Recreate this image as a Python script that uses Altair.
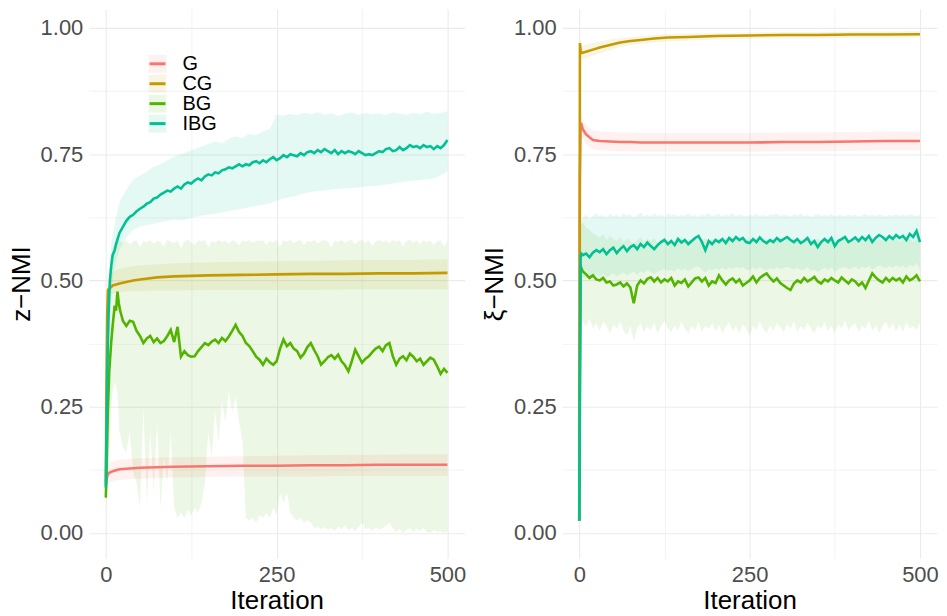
import altair as alt
import pandas as pd

SERIES = ["G", "CG", "BG", "IBG"]
COLORS = ["#F8766D", "#C49A00", "#53B400", "#00C094"]
BANDS = ["G band", "CG band", "BG band", "IBG band"]

# ---------------- left panel: z-NMI ----------------
z_smooth_iter = [0, 1, 2, 3, 4, 6, 8, 10, 15, 20, 30, 40, 50, 75, 100, 150, 200, 250, 300, 350, 400, 450, 500]
g_z_mean = [0.095, 0.105, 0.112, 0.116, 0.118, 0.120, 0.121, 0.122, 0.124, 0.126, 0.127, 0.128, 0.129, 0.130,
            0.131, 0.132, 0.133, 0.133, 0.134, 0.134, 0.135, 0.135, 0.135]
g_z_lo = [0.090, 0.092, 0.095, 0.098, 0.100, 0.101, 0.102, 0.103, 0.104, 0.105, 0.106, 0.107, 0.108, 0.109,
          0.110, 0.111, 0.112, 0.112, 0.112, 0.113, 0.113, 0.113, 0.113]
g_z_hi = [0.100, 0.118, 0.128, 0.133, 0.136, 0.139, 0.140, 0.141, 0.143, 0.145, 0.146, 0.147, 0.148, 0.149,
          0.150, 0.151, 0.152, 0.153, 0.154, 0.155, 0.155, 0.156, 0.156]
cg_z_mean = [0.100, 0.300, 0.430, 0.480, 0.483, 0.485, 0.487, 0.490, 0.492, 0.494, 0.497, 0.500, 0.502, 0.506,
             0.508, 0.510, 0.511, 0.512, 0.513, 0.513, 0.514, 0.514, 0.515]
cg_z_lo = [0.090, 0.250, 0.380, 0.440, 0.455, 0.465, 0.470, 0.474, 0.476, 0.477, 0.478, 0.479, 0.479, 0.480,
           0.480, 0.481, 0.481, 0.481, 0.481, 0.482, 0.482, 0.482, 0.482]
cg_z_hi = [0.110, 0.350, 0.470, 0.505, 0.510, 0.513, 0.515, 0.517, 0.520, 0.523, 0.526, 0.528, 0.530, 0.532,
           0.534, 0.536, 0.537, 0.538, 0.539, 0.540, 0.541, 0.541, 0.542]

ibg_z_iter = [0, 1, 2, 3, 4, 5, 6, 8, 10, 13, 15] + list(range(20, 501, 5))
ibg_z_mean = [0.09, 0.20, 0.30, 0.38, 0.43, 0.47, 0.50, 0.53, 0.55, 0.56, 0.572,
              0.594, 0.606, 0.618, 0.626, 0.630, 0.637, 0.642, 0.646, 0.652, 0.655,
              0.662, 0.664, 0.670, 0.674, 0.678, 0.676, 0.682, 0.686, 0.682, 0.690,
              0.694, 0.692, 0.698, 0.702, 0.698, 0.706, 0.710, 0.708, 0.714, 0.712,
              0.718, 0.720, 0.724, 0.722, 0.726, 0.730, 0.726, 0.730, 0.728, 0.734,
              0.736, 0.732, 0.738, 0.734, 0.740, 0.744, 0.738, 0.742, 0.748, 0.744,
              0.750, 0.748, 0.746, 0.752, 0.748, 0.754, 0.756, 0.752, 0.758, 0.754,
              0.760, 0.756, 0.752, 0.758, 0.750, 0.756, 0.752, 0.756, 0.754, 0.750,
              0.756, 0.752, 0.748, 0.750, 0.748, 0.752, 0.756, 0.754, 0.760, 0.762,
              0.756, 0.758, 0.764, 0.758, 0.762, 0.768, 0.764, 0.766, 0.762, 0.768,
              0.764, 0.766, 0.760, 0.766, 0.762, 0.768, 0.778]

ibg_z_band_iter = [0, 2, 4, 6, 8, 10, 15] + list(range(20, 501, 10))
ibg_z_hi = [0.10, 0.35, 0.48, 0.54, 0.57, 0.59, 0.625,
            0.655, 0.680, 0.700, 0.708, 0.715, 0.725, 0.730, 0.738, 0.745, 0.750,
            0.755, 0.760, 0.765, 0.770, 0.775, 0.772, 0.780, 0.785, 0.782, 0.790,
            0.788, 0.795, 0.800, 0.828, 0.826, 0.830, 0.827, 0.832, 0.829, 0.833,
            0.828, 0.831, 0.826, 0.830, 0.833, 0.828, 0.832, 0.829, 0.831, 0.827,
            0.833, 0.830, 0.828, 0.832, 0.829, 0.834, 0.830, 0.832, 0.835]
ibg_z_lo = [0.08, 0.20, 0.33, 0.42, 0.47, 0.50, 0.54,
            0.560, 0.585, 0.600, 0.607, 0.610, 0.612, 0.615, 0.618, 0.620, 0.618,
            0.622, 0.625, 0.628, 0.630, 0.632, 0.635, 0.637, 0.640, 0.642, 0.645,
            0.648, 0.650, 0.653, 0.658, 0.662, 0.665, 0.668, 0.672, 0.675, 0.677,
            0.678, 0.680, 0.681, 0.682, 0.683, 0.684, 0.686, 0.687, 0.688, 0.690,
            0.692, 0.694, 0.696, 0.697, 0.699, 0.700, 0.702, 0.708, 0.715]

bg_z_iter = [0, 1, 2, 3, 5, 8, 10, 13, 15, 17, 19, 21, 23] + list(range(25, 501, 5))
bg_z_mean = [0.07, 0.12, 0.18, 0.24, 0.32, 0.38, 0.41, 0.45, 0.44, 0.478, 0.455, 0.44, 0.43,
             0.420, 0.410, 0.420, 0.418, 0.400, 0.390, 0.376, 0.385, 0.390, 0.378,
             0.385, 0.376, 0.380, 0.390, 0.402, 0.378, 0.408, 0.349, 0.360, 0.352,
             0.349, 0.350, 0.360, 0.368, 0.376, 0.372, 0.379, 0.383, 0.376, 0.386,
             0.380, 0.389, 0.400, 0.412, 0.398, 0.390, 0.376, 0.370, 0.360, 0.349,
             0.343, 0.333, 0.345, 0.338, 0.333, 0.340, 0.365, 0.383, 0.370, 0.376,
             0.365, 0.360, 0.347, 0.355, 0.368, 0.376, 0.362, 0.350, 0.333, 0.340,
             0.348, 0.352, 0.345, 0.353, 0.340, 0.332, 0.320, 0.340, 0.363, 0.350,
             0.337, 0.345, 0.350, 0.358, 0.365, 0.369, 0.360, 0.372, 0.376, 0.350,
             0.333, 0.345, 0.350, 0.342, 0.355, 0.349, 0.340, 0.345, 0.333, 0.340,
             0.347, 0.343, 0.330, 0.315, 0.325, 0.317]

bg_z_band_iter = [0, 2, 4, 6, 8, 10, 13, 17] + list(range(20, 501, 5))
bg_z_hi = [0.08, 0.30, 0.45, 0.52, 0.55, 0.565, 0.575, 0.58,
           0.578, 0.574, 0.580, 0.571, 0.577, 0.579, 0.566, 0.578, 0.575, 0.580,
           0.572, 0.579, 0.576, 0.568, 0.580, 0.577, 0.574, 0.579, 0.563, 0.578,
           0.580, 0.575, 0.570, 0.579, 0.577, 0.580, 0.566, 0.578, 0.574, 0.580,
           0.576, 0.579, 0.572, 0.580, 0.577, 0.569, 0.579, 0.576, 0.580, 0.574,
           0.579, 0.577, 0.580, 0.571, 0.578, 0.575, 0.580, 0.566, 0.579, 0.577,
           0.580, 0.574, 0.578, 0.580, 0.570, 0.579, 0.576, 0.580, 0.573, 0.578,
           0.580, 0.577, 0.565, 0.579, 0.576, 0.580, 0.574, 0.578, 0.580, 0.571,
           0.578, 0.580, 0.575, 0.579, 0.568, 0.577, 0.580, 0.576, 0.579, 0.573,
           0.580, 0.577, 0.579, 0.567, 0.578, 0.580, 0.575, 0.579, 0.572, 0.580,
           0.576, 0.579, 0.570, 0.578, 0.580, 0.566, 0.578]
bg_z_lo = [0.06, 0.08, 0.12, 0.20, 0.25, 0.28, 0.30, 0.28,
           0.200, 0.170, 0.160, 0.200, 0.120, 0.100, 0.050, 0.250, 0.060, 0.200,
           0.080, 0.220, 0.050, 0.150, 0.100, 0.200, 0.050, 0.030, 0.040, 0.030,
           0.045, 0.035, 0.050, 0.040, 0.060, 0.100, 0.200, 0.150, 0.240, 0.180,
           0.260, 0.220, 0.280, 0.240, 0.270, 0.220, 0.180, 0.030, 0.025, 0.030,
           0.020, 0.035, 0.030, 0.040, 0.030, 0.050, 0.035, 0.080, 0.060, 0.080,
           0.040, 0.030, 0.025, 0.030, 0.020, 0.025, 0.020, 0.010, 0.012, 0.008,
           0.012, 0.006, 0.010, 0.004, 0.012, 0.008, 0.015, 0.006, 0.010, 0.004,
           0.012, 0.020, 0.008, 0.010, 0.004, 0.012, 0.006, 0.010, 0.015, 0.020,
           0.010, 0.002, 0.008, 0.000, 0.006, 0.010, 0.002, 0.008, 0.004, 0.010,
           0.002, 0.000, 0.006, 0.002, 0.004, 0.000, 0.003]

# ---------------- right panel: xi-NMI ----------------
x_smooth_iter = [0, 1, 2, 3, 5, 10, 20, 30, 45, 60, 75, 90, 110, 130, 160, 200, 250, 300, 350, 400, 450, 500]
cg_x_mean = [0.025, 0.970, 0.955, 0.950, 0.951, 0.953, 0.957, 0.961, 0.966, 0.971, 0.974, 0.976, 0.979, 0.981,
             0.982, 0.984, 0.985, 0.986, 0.986, 0.987, 0.987, 0.9875]
cg_x_lo = [0.020, 0.955, 0.940, 0.937, 0.938, 0.940, 0.945, 0.950, 0.956, 0.962, 0.966, 0.968, 0.971, 0.973,
           0.975, 0.977, 0.978, 0.979, 0.979, 0.980, 0.980, 0.981]
cg_x_hi = [0.030, 0.985, 0.970, 0.965, 0.965, 0.967, 0.970, 0.973, 0.977, 0.980, 0.982, 0.984, 0.986, 0.988,
           0.989, 0.990, 0.991, 0.992, 0.992, 0.993, 0.993, 0.994]
g_x_mean = [0.025, 0.700, 0.810, 0.810, 0.800, 0.789, 0.778, 0.776, 0.775, 0.774, 0.774, 0.773, 0.773, 0.773,
            0.773, 0.773, 0.773, 0.774, 0.774, 0.775, 0.776, 0.776]
g_x_lo = [0.020, 0.680, 0.790, 0.790, 0.782, 0.770, 0.760, 0.758, 0.757, 0.756, 0.756, 0.755, 0.755, 0.755,
          0.755, 0.755, 0.755, 0.756, 0.756, 0.757, 0.758, 0.758]
g_x_hi = [0.030, 0.720, 0.830, 0.830, 0.820, 0.808, 0.797, 0.795, 0.794, 0.793, 0.793, 0.792, 0.792, 0.792,
          0.792, 0.792, 0.792, 0.793, 0.793, 0.794, 0.795, 0.795]

x_noisy_iter = [0, 1, 2, 3] + list(range(5, 501, 5))
ibg_x_mean = [0.024, 0.30, 0.55, 0.553,
              0.550, 0.553, 0.546, 0.555, 0.560, 0.556, 0.562, 0.552, 0.560, 0.565,
              0.554, 0.562, 0.568, 0.558, 0.566, 0.570, 0.562, 0.572, 0.566, 0.575,
              0.568, 0.562, 0.570, 0.576, 0.580, 0.572, 0.578, 0.570, 0.582, 0.575,
              0.580, 0.572, 0.578, 0.584, 0.588, 0.576, 0.560, 0.578, 0.572, 0.580,
              0.576, 0.582, 0.574, 0.584, 0.578, 0.586, 0.580, 0.584, 0.576, 0.574,
              0.582, 0.576, 0.585, 0.578, 0.574, 0.580, 0.576, 0.584, 0.578, 0.582,
              0.586, 0.580, 0.576, 0.582, 0.574, 0.578, 0.584, 0.572, 0.578, 0.566,
              0.576, 0.582, 0.576, 0.584, 0.568, 0.578, 0.582, 0.586, 0.576, 0.580,
              0.585, 0.578, 0.586, 0.580, 0.588, 0.576, 0.584, 0.590, 0.586, 0.580,
              0.588, 0.582, 0.590, 0.584, 0.588, 0.580, 0.592, 0.586, 0.598, 0.576]
ibg_x_hi = [0.030, 0.35, 0.60, 0.615,
            0.625, 0.630, 0.622, 0.628, 0.633, 0.626, 0.630, 0.624, 0.632, 0.627,
            0.630, 0.625, 0.633, 0.628, 0.631, 0.624, 0.630, 0.634, 0.627, 0.630,
            0.626, 0.632, 0.628, 0.630, 0.625, 0.633, 0.629, 0.631, 0.626, 0.630,
            0.628, 0.633, 0.627, 0.630, 0.625, 0.631, 0.629, 0.634, 0.627, 0.630,
            0.632, 0.626, 0.630, 0.628, 0.633, 0.627, 0.631, 0.629, 0.626, 0.630,
            0.628, 0.632, 0.627, 0.630, 0.626, 0.631, 0.629, 0.633, 0.627, 0.630,
            0.629, 0.626, 0.631, 0.628, 0.633, 0.627, 0.630, 0.625, 0.629, 0.632,
            0.627, 0.630, 0.628, 0.632, 0.626, 0.630, 0.629, 0.627, 0.631, 0.628,
            0.630, 0.626, 0.629, 0.632, 0.628, 0.630, 0.627, 0.631, 0.629, 0.626,
            0.630, 0.628, 0.632, 0.627, 0.630, 0.628, 0.631, 0.629, 0.627, 0.630]
ibg_x_lo = [0.020, 0.25, 0.49, 0.50,
            0.505, 0.508, 0.503, 0.510, 0.512, 0.507, 0.513, 0.506, 0.510, 0.514,
            0.508, 0.512, 0.516, 0.510, 0.514, 0.517, 0.511, 0.518, 0.514, 0.520,
            0.516, 0.512, 0.517, 0.520, 0.523, 0.518, 0.521, 0.517, 0.524, 0.520,
            0.523, 0.518, 0.522, 0.526, 0.528, 0.521, 0.515, 0.522, 0.519, 0.524,
            0.521, 0.525, 0.520, 0.526, 0.522, 0.527, 0.524, 0.526, 0.521, 0.520,
            0.525, 0.521, 0.527, 0.522, 0.520, 0.524, 0.521, 0.526, 0.522, 0.525,
            0.527, 0.524, 0.521, 0.525, 0.520, 0.522, 0.526, 0.519, 0.522, 0.516,
            0.521, 0.525, 0.521, 0.526, 0.517, 0.522, 0.525, 0.527, 0.521, 0.524,
            0.527, 0.522, 0.527, 0.524, 0.529, 0.521, 0.526, 0.530, 0.527, 0.524,
            0.529, 0.525, 0.530, 0.526, 0.529, 0.524, 0.531, 0.527, 0.535, 0.522]
bg_x_mean = [0.024, 0.30, 0.52, 0.525,
             0.518, 0.512, 0.505, 0.510, 0.502, 0.500, 0.505, 0.496, 0.498, 0.490,
             0.492, 0.496, 0.488, 0.494, 0.486, 0.455, 0.490, 0.500, 0.494, 0.503,
             0.506, 0.498, 0.505, 0.496, 0.502, 0.498, 0.505, 0.490, 0.498, 0.495,
             0.502, 0.488, 0.496, 0.504, 0.506, 0.498, 0.505, 0.490, 0.498, 0.495,
             0.510, 0.500, 0.492, 0.500, 0.504, 0.496, 0.502, 0.490, 0.495, 0.500,
             0.508, 0.496, 0.505, 0.510, 0.514, 0.505, 0.498, 0.504, 0.495, 0.490,
             0.485, 0.481, 0.494, 0.500, 0.496, 0.505, 0.498, 0.502, 0.507, 0.498,
             0.494, 0.502, 0.498, 0.505, 0.500, 0.496, 0.506, 0.500, 0.494, 0.502,
             0.498, 0.490, 0.496, 0.485, 0.500, 0.514, 0.506, 0.500, 0.496, 0.505,
             0.498, 0.505, 0.500, 0.504, 0.496, 0.508, 0.500, 0.504, 0.510, 0.498]
bg_x_hi = [0.030, 0.35, 0.60, 0.61,
           0.615, 0.605, 0.600, 0.594, 0.590, 0.585, 0.592, 0.580, 0.588, 0.582,
           0.578, 0.586, 0.575, 0.583, 0.578, 0.572, 0.580, 0.585, 0.576, 0.583,
           0.578, 0.584, 0.575, 0.580, 0.586, 0.577, 0.582, 0.574, 0.580, 0.585,
           0.576, 0.582, 0.578, 0.585, 0.574, 0.580, 0.583, 0.576, 0.582, 0.578,
           0.584, 0.575, 0.580, 0.586, 0.577, 0.582, 0.576, 0.583, 0.579, 0.585,
           0.577, 0.582, 0.575, 0.584, 0.580, 0.576, 0.583, 0.578, 0.585, 0.576,
           0.581, 0.577, 0.584, 0.575, 0.582, 0.579, 0.585, 0.576, 0.580, 0.583,
           0.577, 0.584, 0.578, 0.582, 0.575, 0.583, 0.579, 0.585, 0.576, 0.581,
           0.578, 0.584, 0.576, 0.582, 0.579, 0.585, 0.577, 0.583, 0.580, 0.576,
           0.583, 0.578, 0.585, 0.577, 0.582, 0.579, 0.584, 0.576, 0.582, 0.580]
bg_x_lo = [0.020, 0.25, 0.44, 0.43,
           0.420, 0.410, 0.425, 0.405, 0.415, 0.400, 0.418, 0.410, 0.395, 0.412,
           0.405, 0.418, 0.400, 0.392, 0.410, 0.380, 0.405, 0.415, 0.398, 0.410,
           0.402, 0.415, 0.395, 0.410, 0.420, 0.405, 0.398, 0.412, 0.400, 0.418,
           0.405, 0.395, 0.410, 0.402, 0.418, 0.398, 0.410, 0.404, 0.415, 0.400,
           0.412, 0.396, 0.408, 0.418, 0.400, 0.410, 0.395, 0.413, 0.405, 0.390,
           0.410, 0.402, 0.418, 0.405, 0.395, 0.412, 0.400, 0.415, 0.408, 0.398,
           0.413, 0.405, 0.420, 0.398, 0.410, 0.402, 0.416, 0.405, 0.395, 0.412,
           0.404, 0.418, 0.400, 0.410, 0.396, 0.414, 0.405, 0.420, 0.402, 0.410,
           0.415, 0.398, 0.410, 0.405, 0.420, 0.400, 0.412, 0.396, 0.410, 0.418,
           0.404, 0.415, 0.400, 0.412, 0.398, 0.418, 0.405, 0.410, 0.402, 0.415]


def lines_df(parts):
    frames = [pd.DataFrame({"iter": it, "value": v, "series": s}) for s, it, v in parts]
    return pd.concat(frames, ignore_index=True)


def bands_df(parts):
    frames = [pd.DataFrame({"iter": it, "lo": lo, "hi": hi, "series": s, "band": s + " band"})
              for s, it, lo, hi in parts]
    return pd.concat(frames, ignore_index=True)


z_lines = lines_df([("G", z_smooth_iter, g_z_mean), ("CG", z_smooth_iter, cg_z_mean),
                    ("BG", bg_z_iter, bg_z_mean), ("IBG", ibg_z_iter, ibg_z_mean)])
z_bands = bands_df([("G", z_smooth_iter, g_z_lo, g_z_hi), ("CG", z_smooth_iter, cg_z_lo, cg_z_hi),
                    ("BG", bg_z_band_iter, bg_z_lo, bg_z_hi), ("IBG", ibg_z_band_iter, ibg_z_lo, ibg_z_hi)])
x_lines = lines_df([("G", x_smooth_iter, g_x_mean), ("CG", x_smooth_iter, cg_x_mean),
                    ("BG", x_noisy_iter, bg_x_mean), ("IBG", x_noisy_iter, ibg_x_mean)])
x_bands = bands_df([("G", x_smooth_iter, g_x_lo, g_x_hi), ("CG", x_smooth_iter, cg_x_lo, cg_x_hi),
                    ("BG", x_noisy_iter, bg_x_lo, bg_x_hi), ("IBG", x_noisy_iter, ibg_x_lo, ibg_x_hi)])

FONT = "Liberation Sans"
PH = 551
LEG_X, LEG_Y = 59, 45


def x_enc():
    return alt.X("iter:Q",
                 scale=alt.Scale(domain=[-25, 525], nice=False, zero=False),
                 axis=alt.Axis(values=[0, 125, 250, 375, 500],
                               labelExpr="datum.value % 250 == 0 ? datum.label : ''",
                               title="Iteration", titleFontSize=26, titleFontWeight="normal",
                               titleColor="black", titlePadding=2, labelFontSize=22,
                               labelColor="#4D4D4D", labelPadding=6, labelFlush=False,
                               domain=False, ticks=False, grid=True, gridColor="#EBEBEB",
                               gridWidth={"condition": {"test": "datum.value % 250 != 0", "value": 0.6},
                                          "value": 1.1}))


def y_axis(title):
    return alt.Axis(values=[0, 0.125, 0.25, 0.375, 0.5, 0.625, 0.75, 0.875, 1.0],
                    labelExpr="datum.value % 0.25 == 0 ? format(datum.value, '.2f') : ''",
                    title=title, titleFontSize=26, titleFontWeight="normal", titleColor="black",
                    titlePadding=6, labelFontSize=22, labelColor="#4D4D4D", labelPadding=6,
                    labelFlush=False, domain=False, ticks=False, grid=True, gridColor="#EBEBEB",
                    gridWidth={"condition": {"test": "datum.value % 0.25 != 0", "value": 0.6},
                               "value": 1.1})


YSCALE = alt.Scale(domain=[-0.05, 1.0375], nice=False, zero=False)


def panel(lines, bands, title, legend, width):
    if legend:
        fill_leg = alt.Legend(orient="none", legendX=LEG_X, legendY=LEG_Y, title=None,
                              symbolType="square", symbolSize=324, symbolStrokeWidth=0,
                              symbolOpacity=0.1, labelExpr="''", labelFontSize=20, labelOffset=14,
                              rowPadding=0, padding=0, zindex=1)
        stroke_leg = alt.Legend(orient="none", legendX=LEG_X, legendY=LEG_Y, title=None,
                                symbolType="stroke", symbolSize=256, symbolStrokeWidth=3,
                                labelFontSize=20, labelOffset=15, labelColor="black", labelFont=FONT,
                                rowPadding=0, padding=0, zindex=2)
    else:
        fill_leg = None
        stroke_leg = None
    area = alt.Chart(bands).mark_area(opacity=0.1, interpolate="linear").encode(
        x=x_enc(),
        y=alt.Y("lo:Q", scale=YSCALE, axis=y_axis(title), stack=None),
        y2="hi:Q",
        fill=alt.Fill("band:N", scale=alt.Scale(domain=BANDS, range=COLORS), legend=fill_leg),
    )
    line = alt.Chart(lines).mark_line(strokeWidth=2.6).encode(
        x=x_enc(),
        y=alt.Y("value:Q", scale=YSCALE, axis=y_axis(title)),
        stroke=alt.Stroke("series:N", scale=alt.Scale(domain=SERIES, range=COLORS), legend=stroke_leg),
    )
    return alt.layer(area, line).properties(width=width, height=PH)


left = panel(z_lines, z_bands, "z\u2212NMI", True, 377)
right = panel(x_lines, x_bands, "\u03be\u2212NMI", False, 376)

chart = alt.hconcat(left, right, spacing=15).resolve_scale(
    fill="independent", stroke="independent"
).properties(padding=0).configure(font=FONT).configure_view(stroke=None)

chart.save("out.html", embed_options={"renderer": "svg", "actions": False})
